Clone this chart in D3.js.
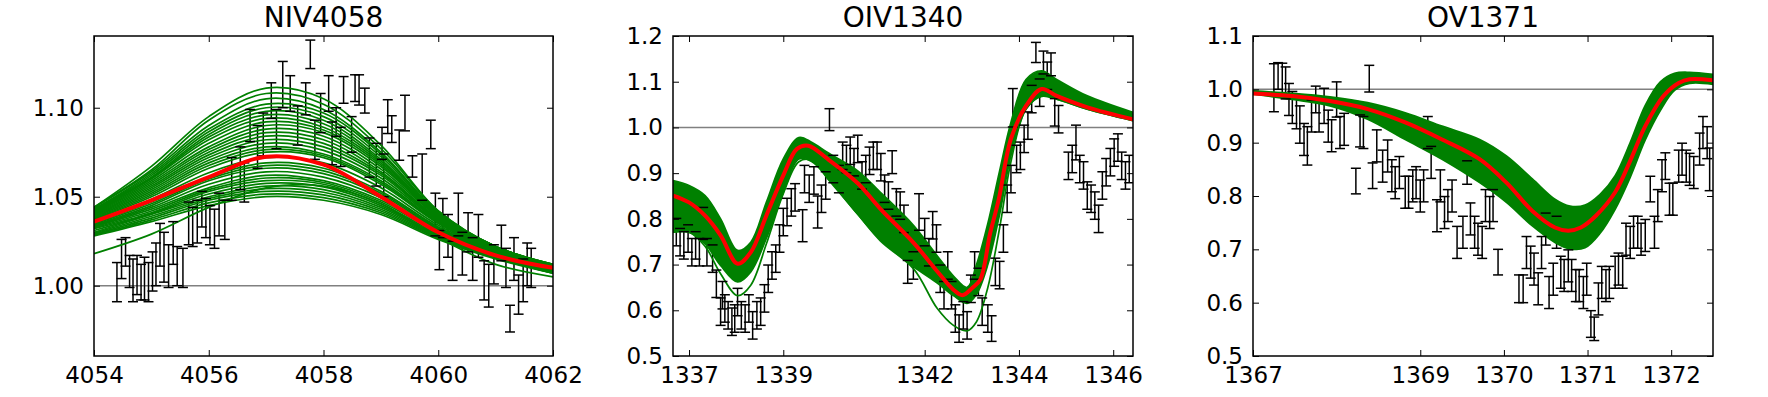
<!DOCTYPE html>
<html>
<head>
<meta charset="utf-8">
<script src="https://cdn.jsdelivr.net/npm/d3@7"></script>
<style>
body { margin: 0; background: #fff; }
</style>
</head>
<body>
<script>
// ---------- NIV4058 ----------
var niv_xticks = [4054, 4056, 4058, 4060, 4062]
var niv_yticks = [1.00, 1.05, 1.10]
var niv_grid = [4054, 4055, 4056, 4057, 4058, 4059, 4060, 4061, 4062]
var niv_red = [1.036, 1.048, 1.061, 1.0725, 1.068, 1.050, 1.030, 1.017, 1.010]
var niv_green = [
  [1.028, 1.036, 1.045, 1.050, 1.048, 1.040, 1.026, 1.015, 1.007],
  [1.0285, 1.037, 1.0465, 1.0515, 1.0495, 1.041, 1.0265, 1.0155, 1.007],
  [1.029, 1.038, 1.048, 1.053, 1.051, 1.042, 1.027, 1.016, 1.007],
  [1.0295, 1.039, 1.049, 1.0545, 1.0525, 1.043, 1.0275, 1.016, 1.0075],
  [1.030, 1.040, 1.050, 1.056, 1.054, 1.044, 1.028, 1.016, 1.008],
  [1.031, 1.0405, 1.0515, 1.0575, 1.0555, 1.045, 1.0285, 1.0165, 1.008],
  [1.032, 1.041, 1.053, 1.059, 1.057, 1.046, 1.029, 1.017, 1.008],
  [1.0325, 1.042, 1.054, 1.0605, 1.058, 1.047, 1.030, 1.017, 1.008],
  [1.033, 1.043, 1.055, 1.062, 1.059, 1.048, 1.031, 1.017, 1.008],
  [1.0335, 1.044, 1.057, 1.064, 1.061, 1.0495, 1.0315, 1.0175, 1.0085],
  [1.034, 1.045, 1.059, 1.066, 1.063, 1.051, 1.032, 1.018, 1.009],
  [1.0345, 1.046, 1.060, 1.0675, 1.0645, 1.052, 1.0325, 1.0185, 1.009],
  [1.035, 1.047, 1.061, 1.069, 1.066, 1.053, 1.033, 1.019, 1.009],
  [1.036, 1.0485, 1.0635, 1.072, 1.069, 1.055, 1.034, 1.019, 1.0095],
  [1.037, 1.050, 1.066, 1.075, 1.072, 1.057, 1.035, 1.019, 1.010],
  [1.0375, 1.051, 1.0675, 1.0765, 1.073, 1.058, 1.0355, 1.0195, 1.010],
  [1.038, 1.052, 1.069, 1.078, 1.074, 1.059, 1.036, 1.020, 1.010],
  [1.0385, 1.053, 1.0705, 1.080, 1.076, 1.0605, 1.0365, 1.020, 1.010],
  [1.039, 1.054, 1.072, 1.082, 1.078, 1.062, 1.037, 1.020, 1.010],
  [1.0395, 1.055, 1.0735, 1.084, 1.080, 1.063, 1.0375, 1.0205, 1.010],
  [1.040, 1.056, 1.075, 1.086, 1.082, 1.064, 1.038, 1.021, 1.010],
  [1.0405, 1.057, 1.0765, 1.088, 1.084, 1.0655, 1.0385, 1.021, 1.0105],
  [1.041, 1.058, 1.078, 1.090, 1.086, 1.067, 1.039, 1.021, 1.011],
  [1.0415, 1.059, 1.080, 1.092, 1.0875, 1.068, 1.039, 1.021, 1.011],
  [1.042, 1.060, 1.082, 1.094, 1.089, 1.069, 1.039, 1.021, 1.011],
  [1.0425, 1.0605, 1.0835, 1.096, 1.091, 1.070, 1.0395, 1.0215, 1.011],
  [1.043, 1.061, 1.085, 1.098, 1.093, 1.071, 1.040, 1.022, 1.011],
  [1.043, 1.062, 1.0865, 1.100, 1.095, 1.0725, 1.0405, 1.022, 1.0115],
  [1.043, 1.063, 1.088, 1.102, 1.097, 1.074, 1.041, 1.022, 1.012],
  [1.044, 1.064, 1.090, 1.105, 1.099, 1.075, 1.041, 1.022, 1.012],
  [1.044, 1.065, 1.093, 1.108, 1.102, 1.077, 1.042, 1.022, 1.012],
  [1.044, 1.067, 1.095, 1.111, 1.105, 1.079, 1.042, 1.022, 1.012],
  [1.018, 1.029, 1.044, 1.055, 1.056, 1.046, 1.027, 1.012, 1.005]
]
// [wavelength, flux, error]
var niv_bars = [
  [4054.40, 1.002, 0.011], [4054.48, 1.015, 0.011], [4054.55, 1.019, 0.008], [4054.62, 1.008, 0.009],
  [4054.68, 1.003, 0.012], [4054.75, 1.006, 0.011], [4054.82, 1.002, 0.010], [4054.88, 1.004, 0.012],
  [4054.95, 1.002, 0.011], [4055.02, 1.008, 0.011], [4055.08, 1.012, 0.012], [4055.15, 1.023, 0.012],
  [4055.22, 1.016, 0.014], [4055.30, 1.011, 0.012], [4055.38, 1.024, 0.012], [4055.45, 1.011, 0.011],
  [4055.55, 1.010, 0.011], [4055.65, 1.035, 0.012], [4055.72, 1.033, 0.011], [4055.80, 1.036, 0.012],
  [4055.88, 1.043, 0.010], [4055.95, 1.038, 0.011], [4056.02, 1.034, 0.011], [4056.10, 1.032, 0.011],
  [4056.18, 1.040, 0.012], [4056.28, 1.037, 0.011], [4056.40, 1.060, 0.012], [4056.55, 1.066, 0.012],
  [4056.62, 1.058, 0.011], [4056.72, 1.090, 0.009], [4056.85, 1.078, 0.012], [4056.95, 1.085, 0.012],
  [4057.09, 1.104, 0.010], [4057.18, 1.088, 0.011], [4057.29, 1.113, 0.013], [4057.42, 1.108, 0.010],
  [4057.55, 1.090, 0.011], [4057.69, 1.105, 0.009], [4057.77, 1.130, 0.008], [4057.85, 1.082, 0.011],
  [4057.95, 1.097, 0.011], [4058.09, 1.108, 0.010], [4058.15, 1.080, 0.012], [4058.22, 1.092, 0.008],
  [4058.30, 1.078, 0.011], [4058.35, 1.110, 0.0075], [4058.49, 1.085, 0.010], [4058.55, 1.111, 0.0075],
  [4058.62, 1.110, 0.0085], [4058.72, 1.104, 0.007], [4058.80, 1.072, 0.011], [4058.92, 1.068, 0.012],
  [4059.02, 1.080, 0.009], [4059.05, 1.062, 0.012], [4059.12, 1.095, 0.0095], [4059.19, 1.088, 0.0075],
  [4059.32, 1.079, 0.0085], [4059.42, 1.097, 0.010], [4059.55, 1.067, 0.006], [4059.72, 1.061, 0.013],
  [4059.87, 1.085, 0.008], [4059.95, 1.040, 0.012], [4060.02, 1.020, 0.011], [4060.08, 1.038, 0.011],
  [4060.17, 1.028, 0.012], [4060.25, 1.014, 0.011], [4060.35, 1.040, 0.012], [4060.42, 1.018, 0.012],
  [4060.52, 1.030, 0.011], [4060.60, 1.015, 0.012], [4060.70, 1.028, 0.012], [4060.80, 1.003, 0.011],
  [4060.88, 1.000, 0.012], [4060.97, 1.012, 0.011], [4061.10, 1.024, 0.010], [4061.18, 1.010, 0.011],
  [4061.25, 0.9815, 0.0075], [4061.32, 1.015, 0.012], [4061.40, 0.995, 0.011], [4061.48, 1.003, 0.012],
  [4061.55, 1.012, 0.012], [4061.62, 1.010, 0.011]
]

// ---------- OIV1340 ----------
var oiv_xticks = [1337, 1339, 1342, 1344, 1346]
var oiv_yticks = [0.5, 0.6, 0.7, 0.8, 0.9, 1.0, 1.1, 1.2]
var oiv_band_x = [1336.66, 1337.00, 1337.34, 1337.67, 1338.03, 1338.31, 1338.64, 1339.00, 1339.33, 1339.61,
  1339.94, 1340.58, 1341.06, 1341.77, 1342.26, 1342.61, 1342.90, 1343.10, 1343.34, 1343.59,
  1343.83, 1344.15, 1344.48, 1344.80, 1345.45, 1346.42]
var oiv_band_hi = [0.884, 0.873, 0.851, 0.800, 0.731, 0.749, 0.836, 0.931, 0.978, 0.967,
  0.945, 0.905, 0.858, 0.785, 0.720, 0.675, 0.650, 0.700, 0.790, 0.905,
  1.011, 1.105, 1.124, 1.105, 1.069, 1.033]
var oiv_band_lo = [0.771, 0.771, 0.746, 0.698, 0.662, 0.684, 0.757, 0.858, 0.931, 0.925,
  0.890, 0.810, 0.755, 0.695, 0.660, 0.632, 0.615, 0.635, 0.700, 0.810,
  0.938, 1.040, 1.069, 1.062, 1.040, 1.015]
var oiv_low = [0.771, 0.771, 0.740, 0.680, 0.632, 0.655, 0.745, 0.855, 0.925, 0.928,
  0.888, 0.810, 0.752, 0.690, 0.605, 0.567, 0.555, 0.575, 0.650, 0.780,
  0.925, 1.040, 1.068, 1.062, 1.040, 1.015]
var oiv_red_x = [1336.66, 1337.00, 1337.34, 1337.67, 1338.03, 1338.31, 1338.64, 1339.00, 1339.29, 1339.53,
  1339.94, 1340.58, 1341.06, 1341.77, 1342.26, 1342.61, 1342.80, 1343.02, 1343.18, 1343.39,
  1343.57, 1343.83, 1344.15, 1344.48, 1344.80, 1345.45, 1346.42]
var oiv_red_y = [0.851, 0.836, 0.807, 0.764, 0.702, 0.727, 0.807, 0.895, 0.953, 0.960,
  0.931, 0.878, 0.822, 0.747, 0.686, 0.645, 0.633, 0.650, 0.667, 0.769,
  0.842, 0.975, 1.047, 1.084, 1.069, 1.044, 1.018]
var oiv_bars = [
  [1336.73, 0.771, 0.03], [1336.81, 0.749, 0.03], [1336.89, 0.742, 0.03], [1336.98, 0.757, 0.03],
  [1337.06, 0.727, 0.03], [1337.14, 0.742, 0.03], [1337.22, 0.727, 0.03], [1337.30, 0.790, 0.035],
  [1337.38, 0.727, 0.03], [1337.50, 0.713, 0.03], [1337.58, 0.658, 0.03], [1337.67, 0.597, 0.03],
  [1337.71, 0.633, 0.03], [1337.76, 0.604, 0.03], [1337.83, 0.589, 0.03], [1337.91, 0.575, 0.03],
  [1337.97, 0.582, 0.03], [1338.03, 0.618, 0.03], [1338.11, 0.589, 0.03], [1338.19, 0.582, 0.03],
  [1338.27, 0.604, 0.03], [1338.35, 0.567, 0.03], [1338.44, 0.589, 0.03], [1338.52, 0.597, 0.03],
  [1338.60, 0.626, 0.03], [1338.68, 0.669, 0.03], [1338.76, 0.698, 0.03], [1338.84, 0.713, 0.03],
  [1338.92, 0.757, 0.03], [1339.00, 0.793, 0.03], [1339.08, 0.815, 0.03], [1339.17, 0.836, 0.03],
  [1339.25, 0.847, 0.03], [1339.41, 0.785, 0.035], [1339.45, 0.887, 0.03], [1339.55, 0.866, 0.03],
  [1339.65, 0.884, 0.03], [1339.73, 0.815, 0.035], [1339.81, 0.844, 0.03], [1339.90, 0.873, 0.03],
  [1339.98, 1.017, 0.024], [1340.06, 0.909, 0.03], [1340.18, 0.887, 0.03], [1340.26, 0.938, 0.03],
  [1340.34, 0.931, 0.03], [1340.42, 0.949, 0.03], [1340.50, 0.924, 0.03], [1340.58, 0.953, 0.03],
  [1340.67, 0.895, 0.03], [1340.75, 0.909, 0.03], [1340.83, 0.927, 0.03], [1340.91, 0.938, 0.03],
  [1340.99, 0.938, 0.03], [1341.07, 0.913, 0.03], [1341.15, 0.866, 0.03], [1341.23, 0.851, 0.03],
  [1341.31, 0.924, 0.025], [1341.40, 0.836, 0.03], [1341.48, 0.829, 0.03], [1341.56, 0.800, 0.03],
  [1341.64, 0.684, 0.025], [1341.76, 0.698, 0.03], [1341.88, 0.815, 0.04], [1342.00, 0.771, 0.03],
  [1342.09, 0.727, 0.03], [1342.17, 0.786, 0.03], [1342.25, 0.757, 0.03], [1342.33, 0.669, 0.03],
  [1342.41, 0.633, 0.03], [1342.49, 0.698, 0.03], [1342.57, 0.633, 0.03], [1342.65, 0.582, 0.03],
  [1342.73, 0.560, 0.03], [1342.82, 0.589, 0.03], [1342.90, 0.567, 0.03], [1342.98, 0.647, 0.03],
  [1343.06, 0.698, 0.03], [1343.14, 0.662, 0.03], [1343.22, 0.597, 0.03], [1343.34, 0.582, 0.03],
  [1343.42, 0.560, 0.028], [1343.50, 0.684, 0.03], [1343.59, 0.677, 0.03], [1343.67, 0.757, 0.03],
  [1343.75, 0.844, 0.03], [1343.83, 0.887, 0.03], [1343.87, 1.043, 0.042], [1343.95, 0.931, 0.03],
  [1344.03, 0.938, 0.03], [1344.11, 0.975, 0.03], [1344.19, 1.004, 0.03], [1344.27, 1.062, 0.03],
  [1344.36, 1.164, 0.022], [1344.44, 1.076, 0.03], [1344.52, 1.142, 0.025], [1344.60, 1.113, 0.03],
  [1344.68, 1.138, 0.025], [1344.76, 1.033, 0.03], [1344.84, 1.018, 0.03], [1345.05, 0.916, 0.03],
  [1345.13, 0.931, 0.03], [1345.21, 0.967, 0.038], [1345.29, 0.909, 0.03], [1345.37, 0.895, 0.03],
  [1345.45, 0.851, 0.03], [1345.53, 0.844, 0.03], [1345.61, 0.829, 0.03], [1345.69, 0.800, 0.03],
  [1345.77, 0.873, 0.03], [1345.85, 0.902, 0.03], [1345.94, 0.924, 0.03], [1346.02, 0.945, 0.03],
  [1346.10, 0.956, 0.03], [1346.18, 0.916, 0.03], [1346.26, 0.895, 0.03], [1346.34, 0.909, 0.03]
]

// ---------- OV1371 ----------
var ov_xticks = [1367, 1369, 1370, 1371, 1372]
var ov_yticks = [0.5, 0.6, 0.7, 0.8, 0.9, 1.0, 1.1]
var ov_band_x = [1367.00, 1367.47, 1367.92, 1368.37, 1368.82, 1369.26, 1369.71, 1370.03, 1370.34, 1370.61,
  1370.79, 1370.97, 1371.15, 1371.33, 1371.51, 1371.69, 1371.87, 1372.04, 1372.22, 1372.50]
var ov_band_hi = [0.997, 0.9925, 0.986, 0.975, 0.956, 0.931, 0.906, 0.875, 0.832, 0.794,
  0.781, 0.783, 0.803, 0.838, 0.900, 0.970, 1.014, 1.030, 1.032, 1.028]
var ov_band_lo = [0.991, 0.981, 0.969, 0.944, 0.906, 0.869, 0.825, 0.788, 0.744, 0.713,
  0.701, 0.703, 0.730, 0.775, 0.835, 0.905, 0.960, 0.998, 1.011, 1.009]
var ov_red_x = [1367.00, 1367.47, 1367.92, 1368.37, 1368.82, 1369.26, 1369.71, 1370.03, 1370.34, 1370.61,
  1370.77, 1370.92, 1371.10, 1371.33, 1371.51, 1371.69, 1371.91, 1372.09, 1372.22, 1372.50]
var ov_red_y = [0.992, 0.9875, 0.978, 0.963, 0.938, 0.906, 0.869, 0.825, 0.772, 0.741,
  0.735, 0.741, 0.763, 0.807, 0.866, 0.931, 0.988, 1.012, 1.019, 1.017]
var ov_bars = [
  [1367.25, 1.003, 0.045], [1367.30, 1.025, 0.025], [1367.35, 1.019, 0.03], [1367.39, 1.012, 0.03],
  [1367.43, 0.981, 0.03], [1367.47, 0.966, 0.03], [1367.52, 0.956, 0.03], [1367.56, 0.934, 0.035],
  [1367.61, 0.906, 0.03], [1367.65, 0.894, 0.036], [1367.70, 0.950, 0.03], [1367.75, 0.981, 0.025],
  [1367.79, 0.950, 0.03], [1367.85, 0.969, 0.033], [1367.90, 0.931, 0.03], [1367.94, 0.913, 0.03],
  [1368.00, 0.981, 0.033], [1368.04, 0.919, 0.03], [1368.09, 0.925, 0.03], [1368.23, 0.828, 0.024],
  [1368.28, 0.922, 0.03], [1368.32, 0.919, 0.03], [1368.39, 1.020, 0.025], [1368.43, 0.838, 0.024],
  [1368.48, 0.894, 0.03], [1368.55, 0.856, 0.03], [1368.61, 0.875, 0.03], [1368.66, 0.838, 0.03],
  [1368.70, 0.825, 0.03], [1368.75, 0.844, 0.03], [1368.82, 0.807, 0.03], [1368.86, 0.807, 0.03],
  [1368.91, 0.819, 0.03], [1368.95, 0.825, 0.03], [1369.00, 0.800, 0.03], [1369.04, 0.819, 0.03],
  [1369.09, 0.919, 0.03], [1369.13, 0.863, 0.03], [1369.20, 0.763, 0.03], [1369.24, 0.819, 0.03],
  [1369.29, 0.769, 0.03], [1369.33, 0.782, 0.03], [1369.38, 0.800, 0.03], [1369.44, 0.713, 0.03],
  [1369.51, 0.732, 0.03], [1369.56, 0.844, 0.022], [1369.60, 0.757, 0.03], [1369.65, 0.732, 0.03],
  [1369.69, 0.719, 0.03], [1369.74, 0.713, 0.03], [1369.78, 0.782, 0.03], [1369.83, 0.769, 0.03],
  [1369.87, 0.782, 0.03], [1369.93, 0.676, 0.024], [1370.18, 0.626, 0.026], [1370.23, 0.626, 0.026],
  [1370.27, 0.694, 0.03], [1370.32, 0.676, 0.03], [1370.36, 0.663, 0.03], [1370.41, 0.626, 0.03],
  [1370.45, 0.694, 0.03], [1370.50, 0.738, 0.03], [1370.54, 0.619, 0.03], [1370.59, 0.644, 0.03],
  [1370.63, 0.732, 0.03], [1370.68, 0.657, 0.03], [1370.72, 0.651, 0.03], [1370.77, 0.669, 0.03],
  [1370.81, 0.651, 0.03], [1370.86, 0.632, 0.03], [1370.90, 0.632, 0.03], [1370.95, 0.619, 0.03],
  [1370.99, 0.644, 0.03], [1371.04, 0.560, 0.025], [1371.08, 0.551, 0.022], [1371.13, 0.607, 0.03],
  [1371.17, 0.638, 0.03], [1371.22, 0.632, 0.03], [1371.26, 0.638, 0.03], [1371.33, 0.657, 0.03],
  [1371.37, 0.663, 0.03], [1371.42, 0.657, 0.03], [1371.46, 0.719, 0.03], [1371.51, 0.713, 0.03],
  [1371.55, 0.732, 0.03], [1371.60, 0.732, 0.03], [1371.64, 0.719, 0.03], [1371.69, 0.726, 0.03],
  [1371.75, 0.813, 0.024], [1371.80, 0.732, 0.03], [1371.84, 0.782, 0.03], [1371.89, 0.838, 0.03],
  [1371.93, 0.856, 0.025], [1371.98, 0.794, 0.03], [1372.02, 0.794, 0.03], [1372.09, 0.856, 0.03],
  [1372.13, 0.869, 0.03], [1372.18, 0.856, 0.03], [1372.22, 0.850, 0.03], [1372.27, 0.844, 0.03],
  [1372.34, 0.888, 0.03], [1372.38, 0.919, 0.03], [1372.43, 0.900, 0.03], [1372.46, 0.850, 0.04]
]

var width = 1768
var height = 397
var top_y = 36
var bottom_y = 356
var green = "#008000"
var font = "DejaVu Sans, sans-serif"

var svg = d3.select("body")
    .append("svg")
        .attr("width", width)
        .attr("height", height)

var curve = d3.curveCatmullRom.alpha(0.5)

var panels = [
  {id: 1, title: "NIV4058", left: 94, right: 553, xdom: [4054, 4062], ydom: [0.9605, 1.1403],
   xticks: niv_xticks, yticks: niv_yticks, yfmt: ".2f", bars: niv_bars,
   lines: niv_green.map(function(c) { return {x: niv_grid, y: c} }),
   band: null, red: {x: niv_grid, y: niv_red}},
  {id: 2, title: "OIV1340", left: 673, right: 1133, xdom: [1336.66, 1346.42], ydom: [0.5, 1.2],
   xticks: oiv_xticks, yticks: oiv_yticks, yfmt: ".1f", bars: oiv_bars,
   lines: [{x: oiv_band_x, y: oiv_band_hi}, {x: oiv_band_x, y: oiv_band_lo}, {x: oiv_band_x, y: oiv_low}],
   band: {x: oiv_band_x, hi: oiv_band_hi, lo: oiv_band_lo}, red: {x: oiv_red_x, y: oiv_red_y}},
  {id: 3, title: "OV1371", left: 1253, right: 1713, xdom: [1367, 1372.5], ydom: [0.5, 1.1],
   xticks: ov_xticks, yticks: ov_yticks, yfmt: ".1f", bars: ov_bars,
   lines: [{x: ov_band_x, y: ov_band_hi}, {x: ov_band_x, y: ov_band_lo}],
   band: {x: ov_band_x, hi: ov_band_hi, lo: ov_band_lo}, red: {x: ov_red_x, y: ov_red_y}}
]

panels.forEach(function(p) {
    var x = d3.scaleLinear().domain(p.xdom).range([p.left, p.right])
    var y = d3.scaleLinear().domain(p.ydom).range([bottom_y, top_y])

    svg.append("clipPath").attr("id", "clip" + p.id)
        .append("rect")
        .attr("x", p.left).attr("y", top_y)
        .attr("width", p.right - p.left).attr("height", bottom_y - top_y)

    var plot = svg.append("g").attr("clip-path", "url(#clip" + p.id + ")")

    // continuum level
    plot.append("line")
        .attr("x1", x(p.xdom[0])).attr("x2", x(p.xdom[1]))
        .attr("y1", y(1)).attr("y2", y(1))
        .attr("stroke", "#808080").attr("stroke-width", 1.5)

    // error bar stems
    plot.selectAll("stems").data(p.bars).enter().append("line")
        .attr("x1", function(d) { return x(d[0]) })
        .attr("x2", function(d) { return x(d[0]) })
        .attr("y1", function(d) { return y(d[1] - d[2]) })
        .attr("y2", function(d) { return y(d[1] + d[2]) })
        .attr("stroke", "black").attr("stroke-width", 1.5)

    // model samples
    if (p.band) {
        var area = d3.area().curve(curve)
            .x(function(d, i) { return x(p.band.x[i]) })
            .y0(function(d, i) { return y(p.band.lo[i]) })
            .y1(function(d, i) { return y(p.band.hi[i]) })
        plot.append("path").datum(p.band.x).attr("d", area).attr("fill", green)
    }
    var line = d3.line().curve(curve)
        .x(function(d) { return x(d[0]) })
        .y(function(d) { return y(d[1]) })
    p.lines.forEach(function(c) {
        plot.append("path")
            .datum(d3.zip(c.x, c.y))
            .attr("d", line)
            .attr("fill", "none")
            .attr("stroke", green)
            .attr("stroke-width", 1.7)
    })

    // error bar caps
    var caps = []
    p.bars.forEach(function(d) { caps.push([d[0], d[1] - d[2]]); caps.push([d[0], d[1] + d[2]]) })
    plot.selectAll("caps").data(caps).enter().append("line")
        .attr("x1", function(d) { return x(d[0]) - 5 })
        .attr("x2", function(d) { return x(d[0]) + 5 })
        .attr("y1", function(d) { return y(d[1]) })
        .attr("y2", function(d) { return y(d[1]) })
        .attr("stroke", "black").attr("stroke-width", 1.5)

    // best model
    plot.append("path")
        .datum(d3.zip(p.red.x, p.red.y))
        .attr("d", line)
        .attr("fill", "none")
        .attr("stroke", "#ff0000")
        .attr("stroke-width", 4)

    // axes, ticks pointing inward on all sides
    var ax = svg.append("g").style("color", "black")
    ax.append("g").attr("transform", "translate(0," + bottom_y + ")")
        .call(d3.axisBottom(x).tickValues(p.xticks).tickSizeInner(-6).tickSizeOuter(0)
              .tickPadding(11).tickFormat(d3.format("d")))
    ax.append("g").attr("transform", "translate(0," + top_y + ")")
        .call(d3.axisTop(x).tickValues(p.xticks).tickSizeInner(-6).tickSizeOuter(0).tickFormat(""))
    ax.append("g").attr("transform", "translate(" + p.left + ",0)")
        .call(d3.axisLeft(y).tickValues(p.yticks).tickSizeInner(-6).tickSizeOuter(0)
              .tickPadding(10).tickFormat(d3.format(p.yfmt)))
    ax.append("g").attr("transform", "translate(" + p.right + ",0)")
        .call(d3.axisRight(y).tickValues(p.yticks).tickSizeInner(-6).tickSizeOuter(0).tickFormat(""))
    ax.selectAll(".domain").remove()
    ax.selectAll("g").attr("font-size", 23).attr("font-family", font)
    ax.selectAll(".tick line").attr("stroke-width", 1)

    ax.append("rect")
        .attr("x", p.left).attr("y", top_y)
        .attr("width", p.right - p.left).attr("height", bottom_y - top_y)
        .attr("fill", "none").attr("stroke", "black").attr("stroke-width", 1.5)

    svg.append("text")
        .attr("x", (p.left + p.right) / 2).attr("y", 27)
        .attr("text-anchor", "middle")
        .attr("font-family", font).attr("font-size", 28)
        .text(p.title)
})
</script>
</body>
</html>
